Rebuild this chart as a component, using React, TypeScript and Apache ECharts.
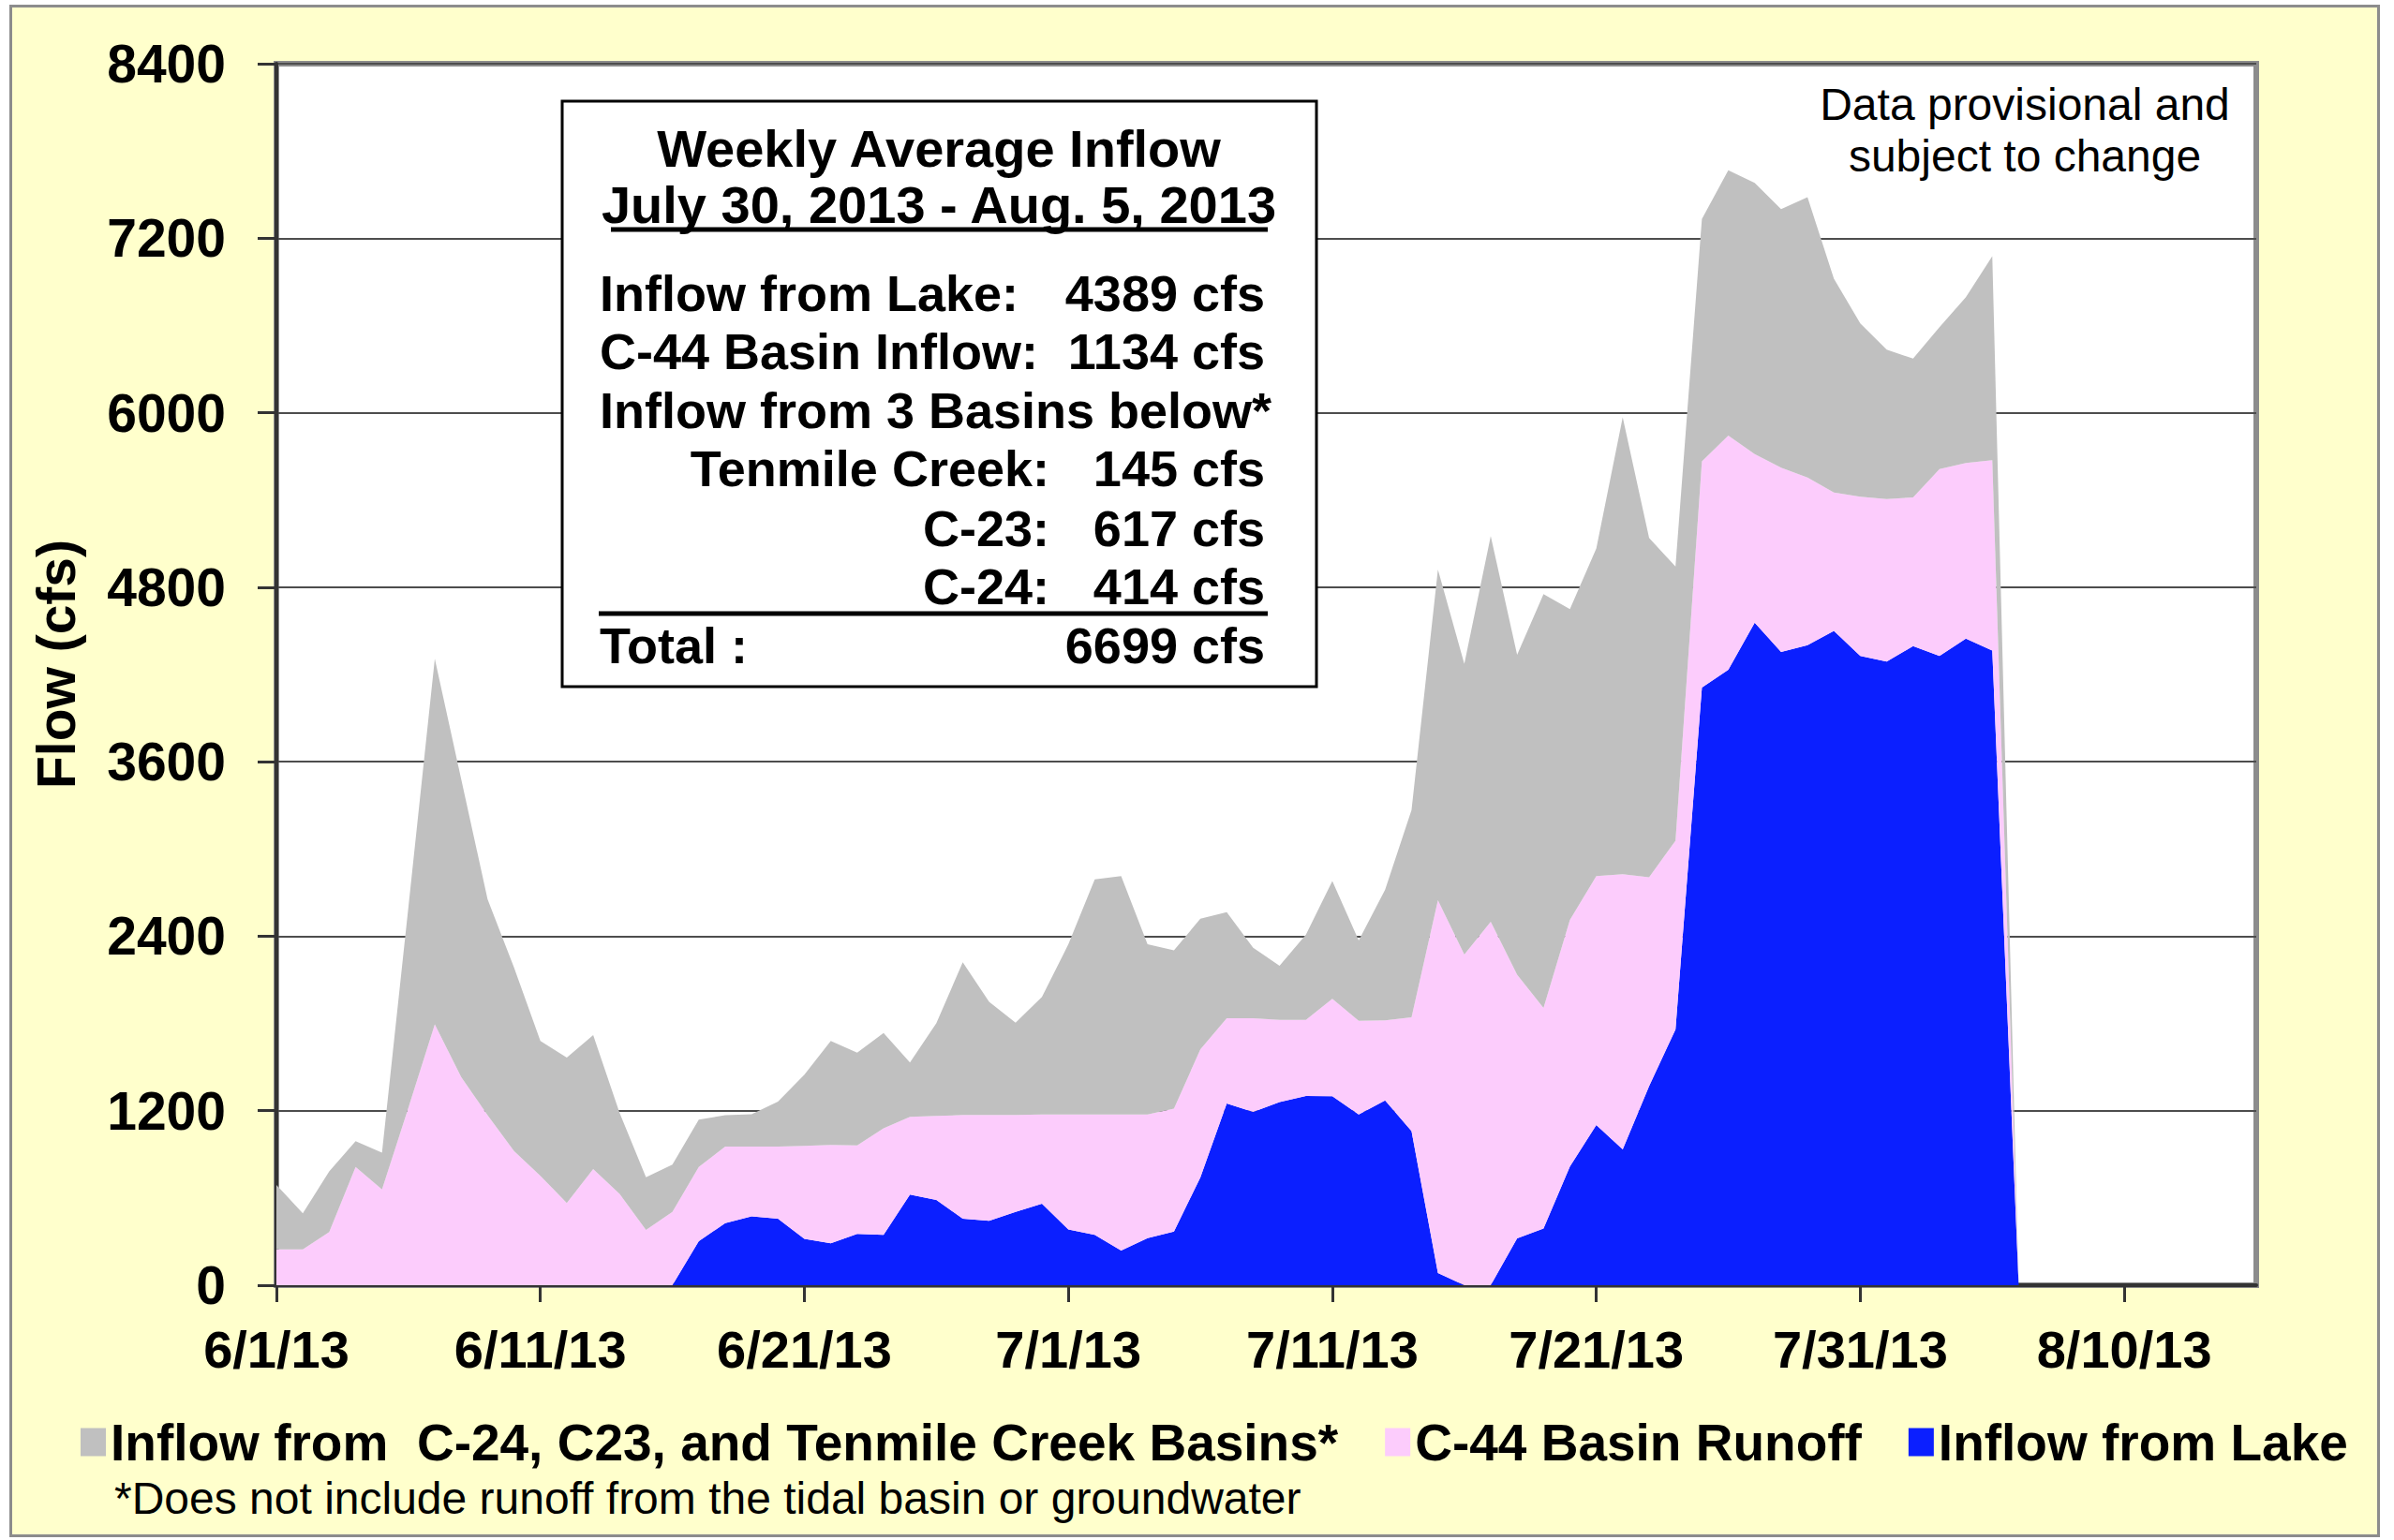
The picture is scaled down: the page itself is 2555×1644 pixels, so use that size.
import React, { useEffect, useRef } from "react";
import * as echarts from "echarts";

// Daily values, 6/1/13 .. 8/6/13 (cfs)
const lakeInflow = [0,0,0,0,0,0,0,0,0,0,0,0,0,0,0,0,303,427,473,458,319,289,352,346,623,587,458,443,504,560,384,346,239,323,368,741,1249,1192,1260,1301,1300,1174,1270,1060,84,0,0,322,389,817,1101,934,1369,1759,4110,4233,4556,4355,4402,4500,4328,4288,4395,4328,4447,4364,0];
const c44Runoff = [247,247,365,813,659,1220,1794,1432,1169,922,752,566,798,628,380,504,510,526,480,495,640,676,610,733,535,578,712,727,666,614,790,828,935,851,847,880,587,644,564,523,670,644,552,783,2563,2274,2500,1814,1517,1696,1713,1893,1437,1298,1555,1610,1160,1267,1152,951,1094,1119,1022,1284,1207,1310,0];
const basinsInflow = [443,248,417,177,253,1380,2514,2048,1485,1263,928,999,922,557,362,325,325,216,222,309,488,715,637,655,373,637,1050,779,636,808,1170,1617,1639,1170,1088,899,729,485,373,587,810,552,898,1424,2274,1998,2651,2199,2847,2136,2253,3141,2333,1885,1668,1824,1864,1778,1928,1471,1192,1027,955,976,1140,1402,0];

// x categories: 6/1/13 .. 8/15/13
const dayCount = 76;
const categories: string[] = [];
for (let i = 0; i < dayCount; i++) {
  const d = new Date(2013, 5, 1 + i);
  categories.push(`${d.getMonth() + 1}/${d.getDate()}/13`);
}

const seriesNames = [
  "Inflow from  C-24, C23, and Tenmile Creek Basins*",
  "C-44 Basin Runoff",
  "Inflow from Lake",
];
const seriesColors = ["#C0C0C0", "#FCCCFC", "#0B1FFF"];

const boxTitle = ["Weekly Average Inflow", "July 30, 2013 - Aug. 5, 2013"];
const boxLabels = ["Inflow from Lake:", "C-44 Basin Inflow:", "Inflow from 3 Basins below*", "Tenmile Creek:", "C-23:", "C-24:", "Total :"];
const boxValues = ["4389 cfs", "1134 cfs", "", "145 cfs", "617 cfs", "414 cfs", "6699 cfs"];
const boxLabelRightAligned = [false, false, false, true, true, true, false];

const FONT = "'Liberation Sans', Arial, sans-serif";

export default function App() {
  const ref = useRef<HTMLDivElement>(null);
  useEffect(() => {
    document.body.style.margin = "0";
    const chart = echarts.init(ref.current!, undefined, { renderer: "svg" });

    const Z = 100;
    const boxX = 600, boxY = 108, boxW = 805, boxH = 625;
    const leftX = 640, rightX = 1350, midLabelX = 1120;
    const rowYs = [313, 375, 438, 500, 564, 626, 689];
    const boxFont = `bold 54px ${FONT}`;
    const titleFont = `bold 56px ${FONT}`;
    const graphics: any[] = [
      { type: "rect", z: Z, shape: { x: boxX, y: boxY, width: boxW, height: boxH }, style: { fill: "#fff", stroke: "#000", lineWidth: 3 } },
      { type: "text", z: Z + 1, x: 1002, y: 158, style: { text: boxTitle[0], font: titleFont, fill: "#000", align: "center", verticalAlign: "middle" } },
      { type: "text", z: Z + 1, x: 1002, y: 218, style: { text: boxTitle[1], font: titleFont, fill: "#000", align: "center", verticalAlign: "middle" } },
      { type: "line", z: Z + 1, shape: { x1: 652, y1: 245, x2: 1353, y2: 245 }, style: { stroke: "#000", lineWidth: 5 } },
      { type: "line", z: Z + 1, shape: { x1: 639, y1: 655, x2: 1353, y2: 655 }, style: { stroke: "#000", lineWidth: 5 } },
    ];
    boxLabels.forEach((lab, i) => {
      graphics.push({
        type: "text", z: Z + 1,
        x: boxLabelRightAligned[i] ? midLabelX : leftX,
        y: rowYs[i],
        style: { text: lab, font: boxFont, fill: "#000", align: boxLabelRightAligned[i] ? "right" : "left", verticalAlign: "middle" },
      });
      if (boxValues[i]) {
        graphics.push({
          type: "text", z: Z + 1, x: rightX, y: rowYs[i],
          style: { text: boxValues[i], font: boxFont, fill: "#000", align: "right", verticalAlign: "middle" },
        });
      }
    });
    graphics.push(
      { type: "text", z: Z, x: 2161, y: 111, style: { text: "Data provisional and", font: `48px ${FONT}`, fill: "#000", align: "center", verticalAlign: "middle" } },
      { type: "text", z: Z, x: 2161, y: 166, style: { text: "subject to change", font: `48px ${FONT}`, fill: "#000", align: "center", verticalAlign: "middle" } },
      { type: "text", z: Z, x: 60, y: 709, rotation: Math.PI / 2, style: { text: "Flow (cfs)", font: `bold 57px ${FONT}`, fill: "#000", align: "center", verticalAlign: "middle" } },
      { type: "text", z: Z, x: 122, y: 1599, style: { text: "*Does not include runoff from the tidal basin or groundwater", font: `48px ${FONT}`, fill: "#000", align: "left", verticalAlign: "middle" } },
    );

    // stacking order: lake (bottom), C-44, basins (top)
    const stackData = [basinsInflow, c44Runoff, lakeInflow];
    const order = [2, 1, 0];
    const series = order.map((k) => ({
      name: seriesNames[k],
      type: "line",
      stack: "total",
      data: stackData[k],
      color: seriesColors[k],
      showSymbol: false,
      symbol: "none",
      lineStyle: { width: 0, color: seriesColors[k] },
      areaStyle: { color: seriesColors[k], opacity: 1 },
      emphasis: { disabled: true },
    }));

    const tickEvery = (i: number) => i % 10 === 0;

    chart.setOption({
      animation: false,
      backgroundColor: "transparent",
      grid: {
        left: 295, top: 68, width: 2113, height: 1304,
        show: true, backgroundColor: "#fff", borderColor: "#8c8c8c", borderWidth: 6,
      },
      legend: {
        left: 81, top: 1507,
        data: seriesNames.map((n) => ({ name: n, icon: "rect" })),
        itemWidth: 27, itemHeight: 30, itemGap: 50,
        textStyle: { fontFamily: FONT, fontWeight: "bold", fontSize: 55, color: "#000" },
        selectedMode: false,
      },
      xAxis: {
        type: "category",
        data: categories,
        boundaryGap: false,
        axisLine: { show: true, lineStyle: { color: "#333", width: 4 } },
        axisTick: { show: true, interval: tickEvery, length: 18, lineStyle: { color: "#333", width: 3 } },
        axisLabel: { interval: tickEvery, margin: 40, fontFamily: FONT, fontWeight: "bold", fontSize: 56, color: "#000" },
        splitLine: { show: false },
      },
      yAxis: {
        type: "value",
        min: 0, max: 8400, interval: 1200,
        axisLine: { show: true, lineStyle: { color: "#333", width: 4 } },
        axisTick: { show: true, length: 20, lineStyle: { color: "#333", width: 3 } },
        axisLabel: { margin: 54, formatter: (v: number) => String(v), fontFamily: FONT, fontWeight: "bold", fontSize: 57, color: "#000" },
        splitLine: { show: true, lineStyle: { color: "#4d4d4d", width: 2 } },
      },
      series,
      graphic: { elements: graphics },
    });
    return () => chart.dispose();
  }, []);

  return (
    <div style={{ position: "relative", width: 2555, height: 1644, background: "#fff" }}>
      <div style={{ position: "absolute", left: 10, top: 5, width: 2524, height: 1630, background: "#FFFFCC", border: "3px solid #8c8c8c" }} />
      <div ref={ref} style={{ position: "absolute", left: 0, top: 0, width: 2555, height: 1644 }} />
    </div>
  );
}
